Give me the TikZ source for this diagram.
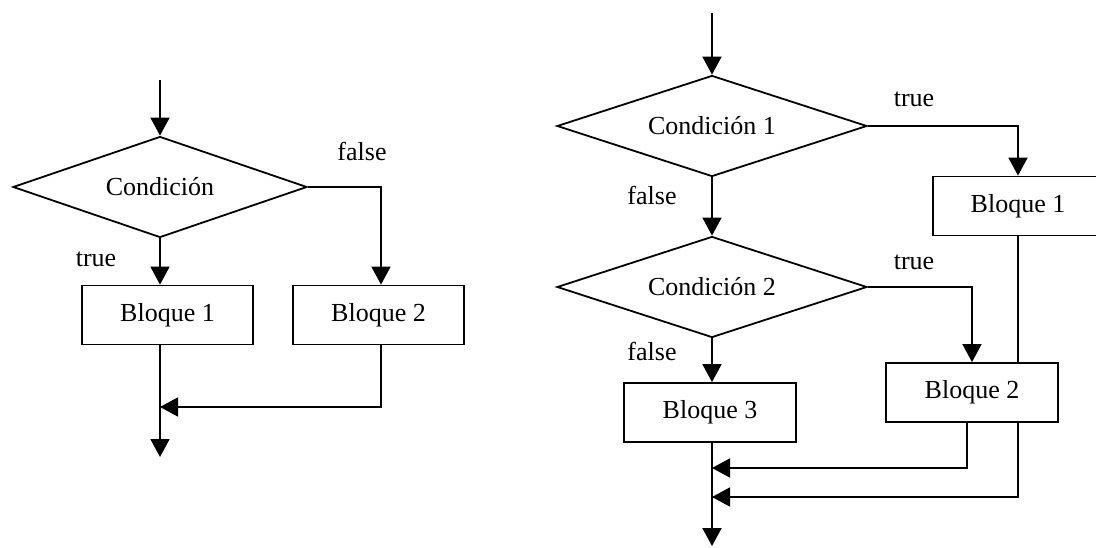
\documentclass[tikz,border=0pt]{standalone}
\usepackage{fontspec}
\setmainfont{Liberation Serif}
\usetikzlibrary{shapes.geometric,arrows.meta,positioning,calc}
\tikzstyle{decision} = [diamond, draw, aspect=3, inner sep=0pt, minimum width=310pt, minimum height=101pt, text centered]
\tikzstyle{block} = [rectangle, draw, inner sep=0pt, minimum width=172pt, minimum height=59pt, text centered]
\tikzstyle{label} = [inner sep=0pt]
\tikzstyle{line} = [draw, -{Triangle[length=18pt,width=19pt]}]

\begin{document}
\begin{tikzpicture}[x=1pt, y=1pt, line width=1.8pt, font=\fontsize{26}{30}\selectfont]
		\useasboundingbox (0,0) rectangle (1096,547);

		% Left diagram
		\coordinate (in1) at (160,467);
		\node[decision, minimum width=294pt](cond) at (160,360) {Condición};
		\node[block, minimum width=171pt](b1) at (167.5,232) {Bloque 1};
		\node[block, minimum width=171pt, right of = b1, node distance = 211pt](b2) {Bloque 2};
		\coordinate (j1) at (160,140);
		\coordinate (out1) at (160,90);
		\node[label](ltrue) at (96,288) {true};
		\node[label](lfalse) at (362,396) {false};

		% Right diagram
		\coordinate (in2) at (712,534);
		\node[decision](c1) at (712,421) {Condición 1};
		\node[decision, below of = c1, node distance = 161pt](c2) {Condición 2};
		\node[block, minimum width=170pt](bl1) at (1018,341) {Bloque 1};
		\node[block](bl2) at (972,154.5) {Bloque 2};
		\node[block](bl3) at (710,134.5) {Bloque 3};
		\coordinate (j2) at (712,79);
		\coordinate (j3) at (712,50);
		\coordinate (out2) at (712,1);
		\node[label](rtrue1) at (914,448) {true};
		\node[label](rfalse1) at (652,352) {false};
		\node[label](rtrue2) at (914,285) {true};
		\node[label](rfalse2) at (652,196) {false};

		% Paths (left)
		\path [line] (in1) -- (cond.north);
		\path [line] (cond.south) -- (cond.south |- b1.north);
		\path [line] (cond.east) -| ([xshift=2.5pt]b2.north);
		\path [line] ([xshift=2.5pt]b2.south) |- (j1);
		\path [line] (cond.south |- b1.south) -- (out1);

		% Paths (right)
		\path [line] (in2) -- (c1.north);
		\path [line] (c1.east) -| (bl1.north);
		\path [line] (c1.south) -- (c2.north);
		\path [line] (c2.east) -| (bl2.north);
		\path [line] (c2.south) -- (c2.south |- bl3.north);
		\draw (bl1.south) -- (bl1.south |- bl2.north);
		\path [line] ([xshift=-5pt]bl2.south) |- (j2);
		\path [line] (bl1.south |- bl2.south) |- (j3);
		\path [line] (c2.south |- bl3.south) -- (out2);

	\end{tikzpicture}
\end{document}
